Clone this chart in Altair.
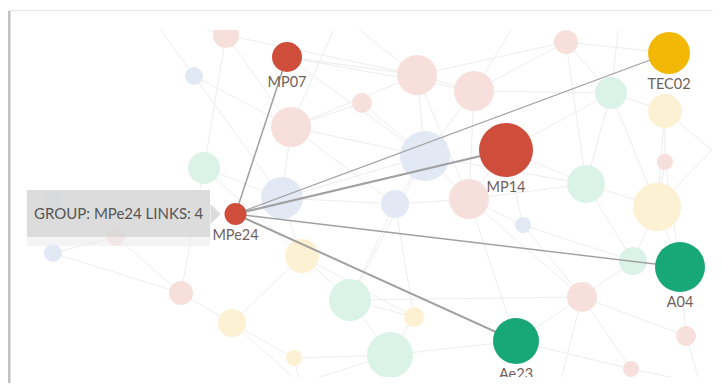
import altair as alt
import pandas as pd

# ---- nodes (graph layout coordinates, weight ~ node radius) ----
node_id = ["MP07", "TEC02", "MP14", "MPe24", "A04", "Ae23",
           "f1", "f2", "f3", "f4", "f5", "f6", "f7", "f8", "f9", "f10",
           "f11", "f12", "f13", "f14", "f15", "f16", "f17", "f18", "f19", "f20",
           "f21", "f22", "f23", "f24", "f25", "f26", "f27", "f28", "f29", "f30",
           "f31", "f32"]
node_x = [287, 669, 506, 235.5, 680, 516,
          226, 194, 291, 204, 282, 417, 474, 566, 362, 611,
          665, 425, 665, 586, 657, 469, 395, 523, 633, 582,
          414, 390, 686, 631, 350, 116, 53, 53, 302, 181,
          232, 294]
node_y = [57, 53, 150, 214, 267, 341,
          35, 76, 127, 168, 198, 75, 91, 42, 103, 93,
          111, 156, 162, 184, 207, 199, 204, 225, 261, 297,
          317, 355, 336, 369, 300, 237, 253, 200, 256, 293,
          323, 358]
node_w = [15, 21, 27, 11, 25, 23,
          13, 9, 20, 16, 21, 20, 20, 12, 10, 16,
          17, 25, 8, 19, 24, 20, 14, 8, 14, 15,
          10, 23, 10, 8, 21, 9, 9, 8, 17, 12,
          14, 8]
node_group = ["MP", "TEC", "MP", "MP", "A", "A",
              "MP", "B", "MP", "A", "B", "MP", "MP", "MP", "MP", "A",
              "TEC", "B", "MP", "A", "TEC", "MP", "B", "B", "A", "MP",
              "TEC", "A", "MP", "MP", "A", "MP", "B", "B", "TEC", "MP",
              "TEC", "TEC"]
highlighted = ["MP07", "TEC02", "MP14", "MPe24", "A04", "Ae23"]

# ---- links ----
focus = "MPe24"
focus_links = ["MP07", "TEC02", "MP14", "A04", "Ae23"]
focus_width = [1.5, 1.2, 2.2, 1.4, 2.0]

ghost_id = ["g1", "g2", "g3", "g4", "g5", "g6", "g7", "g8"]
ghost_x = [340, 520, 620, 300, 560, 700, 712, 150]
ghost_y = [15, 15, 15, 383, 383, 383, 150, 15]

bg_links = [
    ("f1", "f4"), ("f1", "f3"), ("f1", "f6"), ("f2", "f3"), ("f2", "f5"),
    ("f3", "f5"), ("f3", "f6"), ("f3", "f12"), ("f3", "f9"), ("MP07", "f6"),
    ("MP07", "f7"), ("MP07", "f12"), ("f4", "f5"), ("f4", "f29"), ("f4", "f30"),
    ("f5", "f12"), ("f5", "f17"), ("f5", "f29"), ("f6", "f7"), ("f6", "f12"),
    ("f6", "f8"), ("f7", "f8"), ("f7", "f10"), ("f7", "f12"), ("f7", "f16"),
    ("f8", "f10"), ("f8", "TEC02"), ("f8", "f14"), ("f9", "f12"), ("f10", "f11"),
    ("f10", "f14"), ("f11", "f13"), ("f11", "f15"), ("f12", "f16"), ("f12", "f17"),
    ("f12", "f14"), ("MP14", "f14"), ("MP14", "f16"), ("MP14", "f10"), ("f13", "f15"),
    ("f14", "f15"), ("f14", "f19"), ("f14", "f16"), ("f15", "f19"), ("f15", "A04"),
    ("f16", "f18"), ("f16", "f20"), ("f17", "f25"), ("f17", "f21"), ("f18", "f20"),
    ("f19", "f20"), ("f19", "A04"), ("f20", "Ae23"), ("f20", "f23"), ("f21", "f22"),
    ("f21", "f25"), ("f22", "Ae23"), ("f22", "f32"), ("f23", "A04"), ("f24", "Ae23"),
    ("f24", "f20"), ("f25", "f29"), ("f25", "f22"), ("f29", "f31"), ("f30", "f31"),
    ("f31", "f32"), ("f26", "f27"), ("f26", "f28"), ("f26", "f30"), ("f27", "f30"),
    ("f25", "f20"), ("f16", "Ae23"), ("f18", "f19"), ("f13", "A04"), ("f12", "f25"),
    ("f10", "f15"), ("f3", "f17"), ("f6", "f16"), ("f6", "g1"), ("f7", "g2"),
    ("f10", "g3"), ("f3", "g1"), ("f32", "g4"), ("f22", "g4"), ("f20", "g5"),
    ("f24", "g6"), ("f23", "g6"), ("f15", "g7"), ("f11", "g7"), ("f1", "g8"),
    ("f2", "g8"), ("f31", "g4"), ("f29", "f21"), ("MP14", "f18"), ("f17", "f16"),
]

tooltip_text = "GROUP: MPe24 LINKS: 4"

# ---- tables ----
nodes = pd.DataFrame({"id": node_id, "x": node_x, "y": node_y, "w": node_w,
                      "group": node_group})
nodes["state"] = ["hi" if i in highlighted else "lo" for i in node_id]
nodes["key"] = nodes["group"] + "-" + nodes["state"]
nodes["ly"] = nodes["y"] + nodes["w"] + 11

pos = {i: (x, y) for i, x, y in zip(node_id, node_x, node_y)}
pos.update({i: (x, y) for i, x, y in zip(ghost_id, ghost_x, ghost_y)})

bg = pd.DataFrame([{"x": pos[a][0], "y": pos[a][1], "x2": pos[b][0], "y2": pos[b][1]}
                   for a, b in bg_links])
fl = pd.DataFrame([{"x": pos[focus][0], "y": pos[focus][1], "x2": pos[t][0],
                    "y2": pos[t][1], "sw": w} for t, w in zip(focus_links, focus_width)])

W, H = 705, 375
X0, Y0 = 8, 8
xs = alt.Scale(domain=[X0, X0 + W], nice=False, zero=False)
ys = alt.Scale(domain=[Y0, Y0 + H], reverse=True, nice=False, zero=False)
X = lambda f: alt.X(f, type="quantitative", scale=xs, axis=None)
Y = lambda f: alt.Y(f, type="quantitative", scale=ys, axis=None)

color_dom = ["MP-hi", "TEC-hi", "A-hi", "B-hi", "MP-lo", "TEC-lo", "A-lo", "B-lo"]
color_rng = ["#cf4d3b", "#f3b806", "#18a776", "#5b7fc2",
             "#f7e0dc", "#fdf1d3", "#dbf2e9", "#e2e9f5"]

bg_rule = alt.Chart(bg).mark_rule(color="#ededed", strokeWidth=1, opacity=1).encode(
    x=X("x"), y=Y("y"), x2="x2", y2="y2")

faded = alt.Chart(nodes[nodes.state == "lo"]).mark_circle(opacity=1).encode(
    x=X("x"), y=Y("y"),
    size=alt.Size("w:Q", scale=alt.Scale(type="pow", exponent=2, domain=[0, 30],
                                         range=[0, 3600]), legend=None),
    color=alt.Color("key:N", scale=alt.Scale(domain=color_dom, range=color_rng),
                    legend=None))

focus_rule = alt.Chart(fl).mark_rule(color="#a0a0a0").encode(
    x=X("x"), y=Y("y"), x2="x2", y2="y2",
    strokeWidth=alt.StrokeWidth("sw:Q", scale=None))

hi = alt.Chart(nodes[nodes.state == "hi"]).mark_circle(opacity=1).encode(
    x=X("x"), y=Y("y"),
    size=alt.Size("w:Q", scale=alt.Scale(type="pow", exponent=2, domain=[0, 30],
                                         range=[0, 3600]), legend=None),
    color=alt.Color("key:N", scale=alt.Scale(domain=color_dom, range=color_rng),
                    legend=None))

labels = alt.Chart(nodes[nodes.state == "hi"]).mark_text(
    font="Lato", fontSize=14.5, color="#6f5f5f", baseline="middle", align="center").encode(
    x=X("x"), y=Y("ly"), text="id:N")

# masks / frame decorations
mask_df = pd.DataFrame({"x": [11, 11], "x2": [713, 713], "y": [11, 377], "y2": [30, 383]})
masks = alt.Chart(mask_df).mark_rect(color="white").encode(
    x=X("x"), x2="x2", y=Y("y"), y2="y2")

frame_df = pd.DataFrame({"x": [8, 9, 10, 9], "x2": [9, 10, 11, 713],
                         "y": [11, 11, 11, 10], "y2": [383, 383, 383, 11],
                         "c": ["#c4c4c4", "#b9b9b9", "#e2e2e2", "#e6e6e6"]})
frame = alt.Chart(frame_df).mark_rect().encode(
    x=X("x"), x2="x2", y=Y("y"), y2="y2", color=alt.Color("c:N", scale=None))

tip_df = pd.DataFrame({"x": [27, 27], "x2": [210, 210], "y": [237, 190], "y2": [246, 237],
                       "c": ["#ececec", "#d6d6d6"], "o": [0.6, 0.85]})
tip_box = alt.Chart(tip_df).mark_rect().encode(
    x=X("x"), x2="x2", y=Y("y"), y2="y2", color=alt.Color("c:N", scale=None),
    opacity=alt.Opacity("o:Q", scale=None))
tip_ptr = alt.Chart(pd.DataFrame({"x": [215.5], "y": [214]})).mark_point(
    shape="M -0.5 -1 L 0.5 0 L -0.5 1 Z", filled=True, color="#d6d6d6", opacity=0.85,
    size=400).encode(x=X("x"), y=Y("y"))
tip_text = alt.Chart(pd.DataFrame({"x": [34], "y": [214], "t": [tooltip_text]})).mark_text(
    font="Lato", fontSize=15, color="#555555", align="left", baseline="middle").encode(
    x=X("x"), y=Y("y"), text="t:N")

chart = alt.layer(bg_rule, faded, focus_rule, hi, labels, masks, frame,
                  tip_box, tip_ptr, tip_text).resolve_scale(
    color="independent", size="shared").properties(
    width=W, height=H, padding=0, autosize="none", background="white"
).configure_view(stroke=None)

chart.save("out.html", embed_options={"renderer": "svg", "actions": False})
